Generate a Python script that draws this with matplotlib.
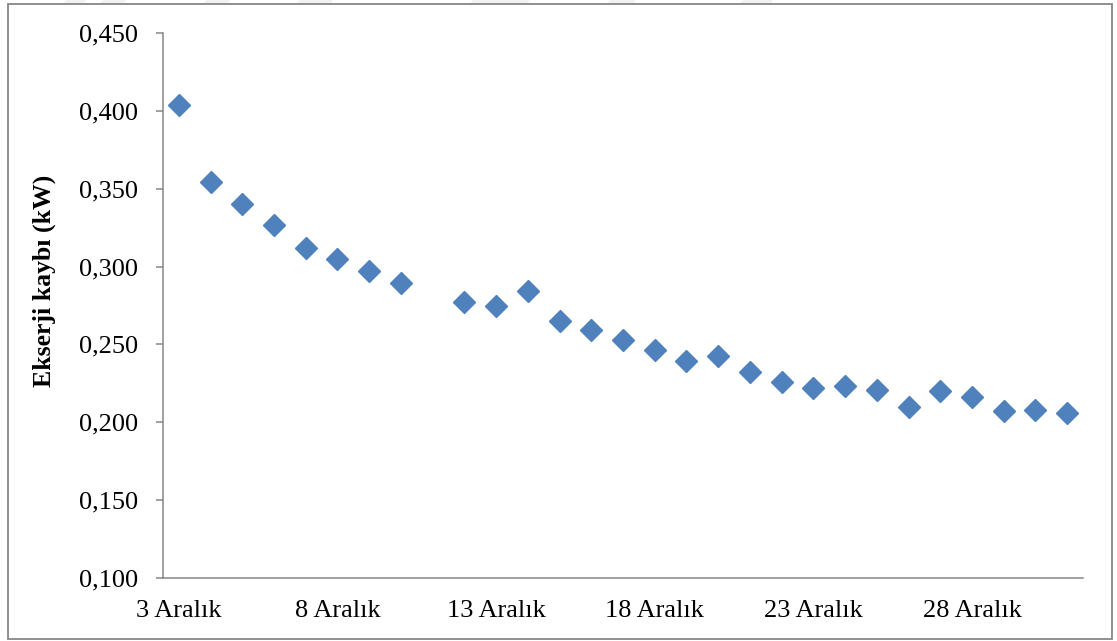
import numpy as np
import matplotlib
matplotlib.use("Agg")
import matplotlib.pyplot as plt
from matplotlib.patches import Rectangle, Polygon
from matplotlib.ticker import FuncFormatter, MultipleLocator

plt.rcParams['font.family'] = ['Liberation Serif', 'DejaVu Serif']

# Daily exergy loss, 3-31 Aralık (no measurement on 11 Aralık)
days = list(range(3, 32))
categories = [f"{d} Aralık" for d in days]
exergy_loss = [0.4036, 0.3543, 0.3403, 0.3264, 0.3118, 0.3050, 0.2972, 0.2895,
               np.nan,
               0.2775, 0.2745, 0.2844, 0.2649, 0.2593, 0.2528, 0.2464, 0.2391,
               0.2423, 0.2322, 0.2260, 0.2218, 0.2232, 0.2208, 0.2097, 0.2200,
               0.2160, 0.2071, 0.2082, 0.2059]
label_every = 5

W, H = 1117, 641
fig = plt.figure(figsize=(W / 100, H / 100), dpi=100)

# faint background strokes along the top edge
for x0, x1 in [(63, 83), (100, 123), (203, 227), (297, 330), (470, 527), (607, 633), (740, 770)]:
    pts = [(x0 + 3, 0), (x1 + 3, 0), (x1, 4), (x0, 4)]
    fig.patches.append(Polygon([(px / W, 1 - py / H) for px, py in pts], closed=True,
                               transform=fig.transFigure, facecolor='#f2f2f2',
                               edgecolor='none', zorder=0))

# chart border
fig.patches.append(Rectangle((8 / W, 2 / H), (1112 - 8) / W, (637 - 2) / H,
                             transform=fig.transFigure, fill=False,
                             edgecolor='#878787', linewidth=1.3, zorder=1))

ax = fig.add_axes([163 / W, 1 - 578 / H, (1083 - 163) / W, (578 - 33) / H])
x = np.arange(len(categories))
ax.plot(x, exergy_loss, linestyle='none', marker='D', markersize=11,
        color='#4F81BD', markeredgecolor='#4F81BD', clip_on=False)

ax.set_xlim(-0.5, len(categories) - 0.5)
ax.set_ylim(0.100, 0.450)
ax.yaxis.set_major_locator(MultipleLocator(0.05))
ax.yaxis.set_major_formatter(FuncFormatter(lambda v, p: f"{v:.3f}".replace('.', ',')))

ax.set_xticks(x[::label_every])
ax.set_xticklabels(categories[::label_every])

for side in ['top', 'right']:
    ax.spines[side].set_visible(False)
for side in ['left', 'bottom']:
    ax.spines[side].set_color('#868686')
    ax.spines[side].set_linewidth(1.1)

ax.tick_params(axis='y', direction='out', length=5, width=1.1, color='#868686',
               labelsize=19, pad=13)
ax.tick_params(axis='x', length=0, labelsize=19, pad=15.5)

fig.text(44 / W, 1 - 280.5 / H, 'Ekserji kaybı (kW)', rotation=90, ha='center',
         va='center', fontsize=18.5, fontweight='bold')

fig.savefig('out.png', dpi=100, facecolor='white')
